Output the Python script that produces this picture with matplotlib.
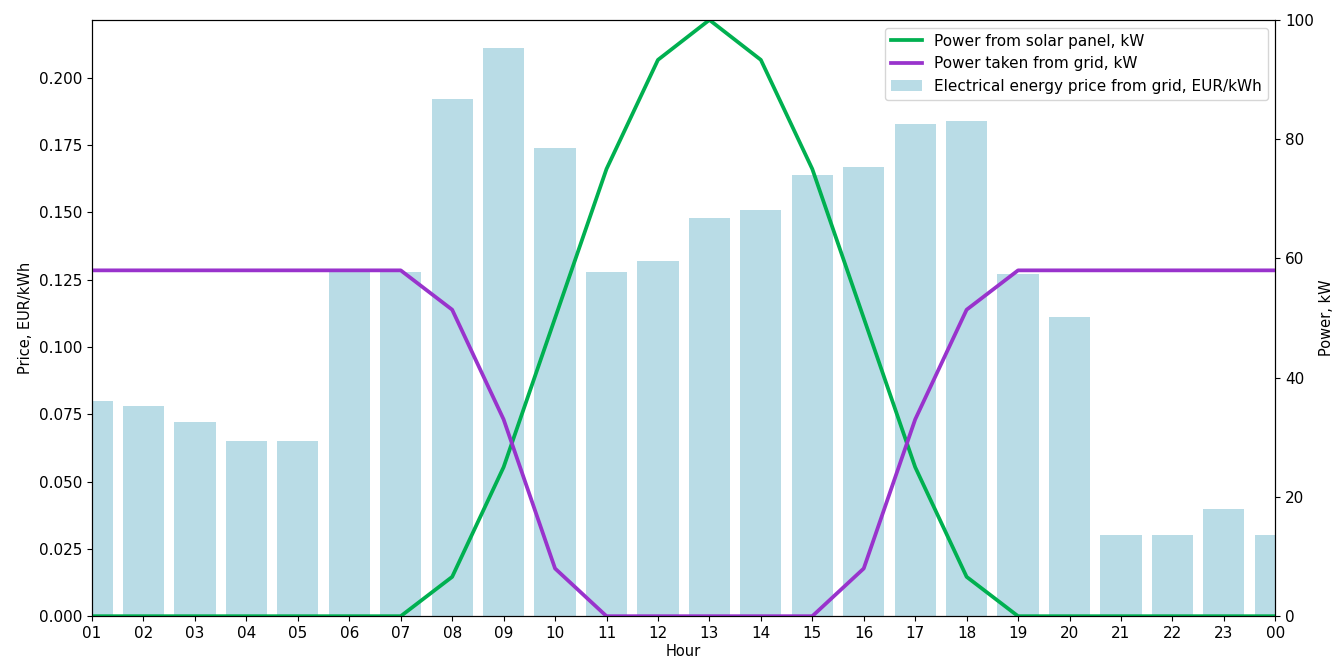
import matplotlib
matplotlib.use("Agg")
from matplotlib import pyplot as plt

# hourly data
hours = ["01", "02", "03", "04", "05", "06", "07", "08", "09", "10", "11", "12",
         "13", "14", "15", "16", "17", "18", "19", "20", "21", "22", "23", "00"]
price = [0.080, 0.078, 0.072, 0.065, 0.065, 0.128, 0.128, 0.192, 0.211, 0.174, 0.128, 0.132,
         0.148, 0.151, 0.164, 0.167, 0.183, 0.184, 0.127, 0.111, 0.030, 0.030, 0.040, 0.030]
solar = [0, 0, 0, 0, 0, 0, 0, 6.6, 25, 50, 75, 93.3,
         100, 93.3, 75, 50, 25, 6.6, 0, 0, 0, 0, 0, 0]
grid = [58, 58, 58, 58, 58, 58, 58, 51.4, 33, 8, 0, 0,
        0, 0, 0, 8, 33, 51.4, 58, 58, 58, 58, 58, 58]

plt.rcParams['font.size'] = 11
x = range(len(hours))

fig = plt.figure(figsize=(13.34, 6.64), dpi=100)
ax = fig.add_axes([0.069, 0.072, 0.887, 0.898])
bars = ax.bar(x, price, width=0.8, color="#b9dce6",
              label="Electrical energy price from grid, EUR/kWh")
ax.set_xlim(0, 23)
ax.set_xticks(list(x))
ax.set_xticklabels(hours)
ax.set_xlabel("Hour", fontsize=10.5, labelpad=2)
ax.set_ylabel("Price, EUR/kWh", fontsize=10.5)

ax2 = ax.twinx()
l1, = ax2.plot(x, solar, color="#00b050", lw=2.7, label="Power from solar panel, kW")
l2, = ax2.plot(x, grid, color="#9933cc", lw=2.7, label="Power taken from grid, kW")
ax2.set_ylim(0, 100)
ax2.set_ylabel("Power, kW", fontsize=10.5)

ax2.legend(handles=[l1, l2, bars], loc="upper right", fontsize=11)

plt.savefig("out.png")
